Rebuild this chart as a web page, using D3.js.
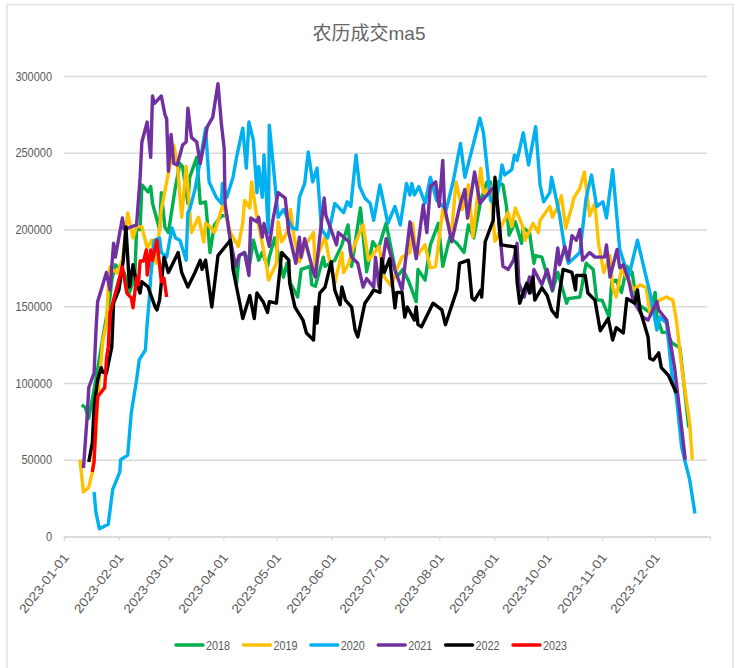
<!DOCTYPE html>
<html>
<head>
<meta charset="utf-8">
<script src="https://cdn.jsdelivr.net/npm/d3@7"></script>
<style>
  html, body { margin: 0; background: #fff; }
  text { font-family: "Liberation Sans", "Noto Sans CJK SC", sans-serif; fill: #595959; }
</style>
</head>
<body>
<svg id="chart" width="737" height="668"></svg>
<script>
// [day of year, volume in thousands]
const s2018 = [[10,85.7],[12,84],[14,77],[18,102],[22,130],[26,156],[27,167],[29,177],[34,172],[37,159],[40,169],[41,200],[43,200],[44,229],[47.5,224.5],[49,228],[50,217],[54,200],[55,224],[57,201.6],[59,198],[63,228],[65.5,243],[67,241],[70,217],[71,234],[75,247],[77,217],[80,218],[82.5,185],[85,203],[89,209],[92,209],[97.5,165],[99,183],[102,185],[105,178],[107,193],[110,180],[112,185],[115,176],[116,182],[119,194.5],[124,169],[126,178],[128,165],[132,156],[134,174],[139,176],[140,164],[142,163],[146.5,182],[147.5,176],[153,180],[157,190],[160.5,203],[162.5,176],[167.5,214],[171,172.5],[174.5,192],[177.5,187],[182,204],[188,169],[191.5,174],[194.5,167],[199,153],[200,174],[204,167],[207,190],[211.5,204],[214,176],[218,195],[222,191],[226,185],[228.5,203],[231.5,194.5],[235.5,219],[239,231],[241,231],[242.5,219],[245,231],[248,229],[250,215],[251.5,196.4],[255,205],[258.5,191],[259.5,201],[263,198],[265.5,178],[266.5,183],[270,182],[272,174],[276,160],[279,172],[284,152],[285,155],[291.5,156],[295,178],[299,174],[301,154],[304,154],[308,143],[309.5,166],[312,167],[315,159],[318,176],[321,172],[323.5,152],[331,146],[334,159],[335,143],[338,133],[340.5,133],[343.5,126],[348,123],[353,71]];

const s2019 = [[9,50],[11,29],[14,32],[16,42],[18,66],[19,89],[21,115],[22,128],[24,139],[25,162.5],[26,175.6],[30,171.7],[33,180],[36,210.8],[39,194.5],[41,202],[44,201.6],[47,188],[49.5,193],[52,178],[55,213],[59,237],[62,255],[64,243],[66.5,208],[69,241],[72,198],[76,208],[79,192],[80,204],[82.5,202],[85,198],[90,217],[94,198],[98.5,189],[101,204],[102,219],[105,214],[106,231],[109,208],[112,191],[114.5,176],[115.5,167],[120,178],[121,205],[123,192],[126,198],[128,213],[130,195],[133,179],[136,189],[141,198],[142,172],[144,185],[147.5,195],[150,180],[153,165],[157,185],[158,172],[161,178],[163,187],[169,203],[172,180],[178,189],[181,169],[185,163],[188,174],[191,182],[195.5,185],[197,204],[199,182],[204,190],[207,175],[210,176],[214,213],[219,198],[221.5,231],[225,213],[228.5,229],[231,195],[235.5,240],[237,224],[241,228],[243.5,192.5],[245,195],[247,202],[251,211],[253,202],[255,214],[259.5,201],[260.5,193],[265,204],[268,198],[269,206],[274.5,215],[276,208],[279,215],[281,222],[283.5,201],[287,215],[288,220.5],[291.5,227],[294,237.5],[297,209],[300,217],[302,191],[305,172],[308.5,183],[310,162.5],[312,156],[315,174],[320,165],[321.5,160.6],[325.5,164],[329,162],[331,146],[336.5,154],[340.5,156],[344,154],[346,141],[349,110.5],[353.5,74],[355,50]];

const s2020 = [[17,29],[18,16],[20,5],[25,8],[27.5,30.5],[31.5,42],[32,50],[36,53],[38,80.5],[41,102],[42.5,115],[46,121.5],[47,139],[48,152],[49,169],[51,193],[54,194.5],[55,185],[58,182],[61,201],[63,194.5],[65.5,193],[69,180],[70,211],[71,213],[74,226],[77,245],[80,266],[82,231],[86,221],[89,217],[89.5,230],[92,221],[95.5,234],[97.5,247],[101,266],[103,240],[104.5,270],[107,258],[109,224],[110,241],[112,221],[113,248.5],[115.5,198],[116,268],[118,244.5],[121,208],[124,213],[129,201],[131.5,200],[133,221],[136,230],[138,250.5],[140.5,231],[143,240],[145.5,200],[149,194.5],[153,217],[158,211],[160,218],[162,215],[165,248.5],[167,228],[170,220.5],[173,217],[175,206],[178.5,229],[183,204],[187,215],[190,203],[193.5,230],[195.5,222.5],[196.5,230],[198,222.5],[200.5,228],[204,217],[207,234],[210.5,219],[216,213],[220,232],[224,256],[226.5,234],[235,272.5],[237,263],[241,219],[243.5,216],[246,229],[247.5,242],[249,235.5],[253,239],[254.5,248.5],[256,245],[259.5,263],[262.5,242],[266.5,267],[269,229],[271,218],[274.5,224],[275.5,234],[277,226],[280,209.5],[283,187],[285,178],[291.5,185],[295,220.5],[298,235.5],[301,215],[304.5,218],[306.5,207.5],[310,239],[314,187],[319,169],[324,193],[327.5,176],[331,159],[335,134.5],[336.5,143],[340.5,139],[343.5,105],[346,91],[349,58],[351,48.5],[353.5,37],[356.5,15]];

const s2021 = [[11,44.6],[13,77],[14,97],[17,106.5],[18,132.6],[19,153],[21,160.6],[24,172],[26,160.6],[28,191],[29,182],[33,207.5],[34,200],[41,203],[43,233.6],[44,257],[47,270],[49,247],[50,287],[51,282],[55,287],[57,275],[58,272],[59,238],[60.5,262],[62,243],[64,242],[67,255],[69,257],[70,279],[72,260],[75,257],[77,243],[81,267],[84,273],[87,295],[89,268],[90.5,253],[91,217],[94,193],[97,176],[99,183],[102,185],[104.5,170],[105.5,207.5],[109,205],[110,208],[112,195],[113,204],[116,189],[118,206],[121,224],[125,220.5],[127,198],[131,178],[133,195],[134,182],[136,194],[141,172],[142,169],[147,220.5],[148,209],[154,190],[155,198],[161,192],[162.5,182],[166,178],[169,162.5],[171,168],[175,162.5],[176,182],[178,162.5],[182,194],[187,173.6],[191,160.6],[195.5,205],[199,181],[203,216],[205,198],[207,228],[210,231],[212,215],[214,245],[215,215],[219,192],[224,217],[226.5,226],[228,207.5],[232,237.5],[235,217],[241.5,226],[243.5,228],[245,213],[248,176],[251,174],[254,180],[256,191],[257,165],[260,156],[263,169],[264,159],[265.5,174],[270,164],[273,174],[276,160.6],[279,188],[280,177],[283,189],[285,180],[287,196],[289.5,193],[291.5,200],[293,180],[297,185],[300,182],[305.5,182],[306.5,190],[308.5,169],[312.5,187],[314,175],[316,177],[319,167],[321.5,154],[327,143],[330,141],[335,153],[336,147.6],[340.5,141],[345,110],[348,80.5],[351,50]];

const s2022 = [[14,48.5],[16,61],[17,84],[19,102],[21,110],[22,107],[24,106.5],[27,123.5],[28,152],[31,160.6],[33.5,180],[35,201.6],[37,162.5],[39,177],[41,165],[43,158.6],[44,166],[47.5,162.5],[51.5,149.5],[52.5,147.6],[54,154],[56.5,182],[59,172],[64.5,185],[66.5,172],[70,162.5],[74,172],[77,180],[78,174],[80,180],[83.5,149.5],[87,183],[94,193],[95.5,174],[99.5,151],[101,142],[105,157],[107.5,142],[109,158.6],[112.5,153],[115,146],[116,153],[120,152],[123,185],[127,180],[127.5,165],[130.5,149.5],[135,141],[137,132.6],[141,128],[142,149.5],[143,139],[144.5,158.6],[147.5,162.5],[151,179],[153,160.6],[156,151],[157,162.5],[159,154],[162.5,149.5],[164.5,134.5],[166,130],[170,152],[173,157],[175,160.6],[178.5,159],[179.5,181],[181,172],[184,181],[187,149],[188,159],[191,159],[192.5,143],[194,149.5],[198,141],[199,149.5],[200,138],[202,136.6],[208.5,152],[213.5,147.6],[215.5,138],[222,160.6],[223.5,178],[228.5,180],[230.5,155.4],[232,154],[235.5,160.6],[236,156],[238,192],[242.5,206],[243.5,234],[247,190],[255,188.6],[256,166],[257.5,152],[259.5,159],[261.5,165],[263,158.6],[265,169],[266,154],[270,162],[273,157],[275.5,147.6],[278.5,143],[280,159],[282,174],[287,172],[289,160.6],[289.5,170],[294.5,170],[296,158.6],[300,154],[303,134],[307.5,142],[310,128],[312,136],[316,132.6],[318,155],[322.5,152],[324,160.6],[325.5,147.6],[330,130],[331,116],[333,115],[336,119.6],[337.5,110],[341.5,105],[346,93.5]];

const s2023 = [[16,42],[17,48.5],[18,74],[19,91],[23,97],[24,116],[25,123.5],[26,145.6],[33,175.6],[35.5,158.6],[38,155.4],[39,149],[41,168.4],[42,164],[43,179.5],[45,179.5],[46.5,186.7],[47,170.4],[49,186.7],[50,180],[52.5,193],[55,166],[56.5,168.4],[58,156]];

const seriesNames = ["2018", "2019", "2020", "2021", "2022", "2023"];
const seriesData = [s2018, s2019, s2020, s2021, s2022, s2023];
const seriesColors = ["#00b050", "#ffc000", "#00b0f0", "#7030a0", "#000000", "#ff0000"];
const yTicks = [0, 50000, 100000, 150000, 200000, 250000, 300000];
const monthTicks = d3.range(12).map(m => new Date(2023, m, 1));

const svg = d3.select("#chart");
const plotLeft = 64, plotRight = 710, gridRight = 707, plotTop = 76, plotBottom = 536.5;

const start = new Date(2023, 0, 1);
const toDate = d => new Date(start.getTime() + d * 864e5);

const x = d3.scaleTime().domain([start, new Date(2024, 0, 1)]).range([plotLeft, plotRight]);
const y = d3.scaleLinear().domain([0, 300000]).range([plotBottom, plotTop]);

// chart area frame, open at the bottom
svg.append("path")
  .attr("d", "M7,668V4.5H733V668")
  .attr("stroke", "#e4e4e4")
  .attr("stroke-width", 1.6)
  .attr("fill", "none");

svg.append("text")
  .attr("x", 369)
  .attr("y", 40)
  .attr("text-anchor", "middle")
  .style("font-size", "19px")
  .style("fill", "#666")
  .text("农历成交ma5");

const yAxis = svg.append("g")
  .attr("transform", `translate(${plotLeft},0)`)
  .call(d3.axisLeft(y).tickValues(yTicks).tickFormat(d3.format("d")).tickSize(-(gridRight - plotLeft)).tickPadding(12));
yAxis.select(".domain").remove();
yAxis.selectAll("line").attr("stroke", "#d9d9d9").attr("stroke-width", 1.4);
yAxis.selectAll("text")
  .style("font-size", "13px")
  .attr("textLength", d => String(d).length * 6.1)
  .attr("lengthAdjust", "spacingAndGlyphs");

const xAxis = svg.append("g")
  .attr("transform", `translate(0,${plotBottom})`)
  .call(d3.axisBottom(x).tickValues(monthTicks).tickFormat(d3.timeFormat("%Y-%m-%d")).tickSize(4).tickSizeOuter(4));
xAxis.selectAll("path, line").attr("stroke", "#d9d9d9").attr("stroke-width", 1.3);
xAxis.selectAll("text")
  .style("font-size", "12.5px")
  .attr("text-anchor", "end")
  .attr("y", 0)
  .attr("dy", 0)
  .attr("textLength", 72)
  .attr("lengthAdjust", "spacingAndGlyphs")
  .attr("transform", "translate(5,21) rotate(-52)");

const line = d3.line()
  .x(d => x(toDate(d[0])))
  .y(d => y(d[1] * 1000));

seriesData.forEach((s, i) => {
  svg.append("path")
    .datum(s)
    .attr("fill", "none")
    .attr("stroke", seriesColors[i])
    .attr("stroke-width", 3.4)
    .attr("stroke-linejoin", "round")
    .attr("d", line);
});

// legend
const legend = svg.append("g").attr("transform", "translate(176,645)");
seriesNames.forEach((name, i) => {
  const g = legend.append("g").attr("transform", `translate(${i * 67.4},0)`);
  g.append("line")
    .attr("x1", 0).attr("x2", 27)
    .attr("stroke", seriesColors[i])
    .attr("stroke-width", 3.4)
    .attr("stroke-linecap", "round");
  g.append("text")
    .attr("x", 30)
    .attr("y", 5)
    .style("font-size", "13px")
    .attr("textLength", 24)
    .attr("lengthAdjust", "spacingAndGlyphs")
    .text(name);
});
</script>
</body>
</html>
